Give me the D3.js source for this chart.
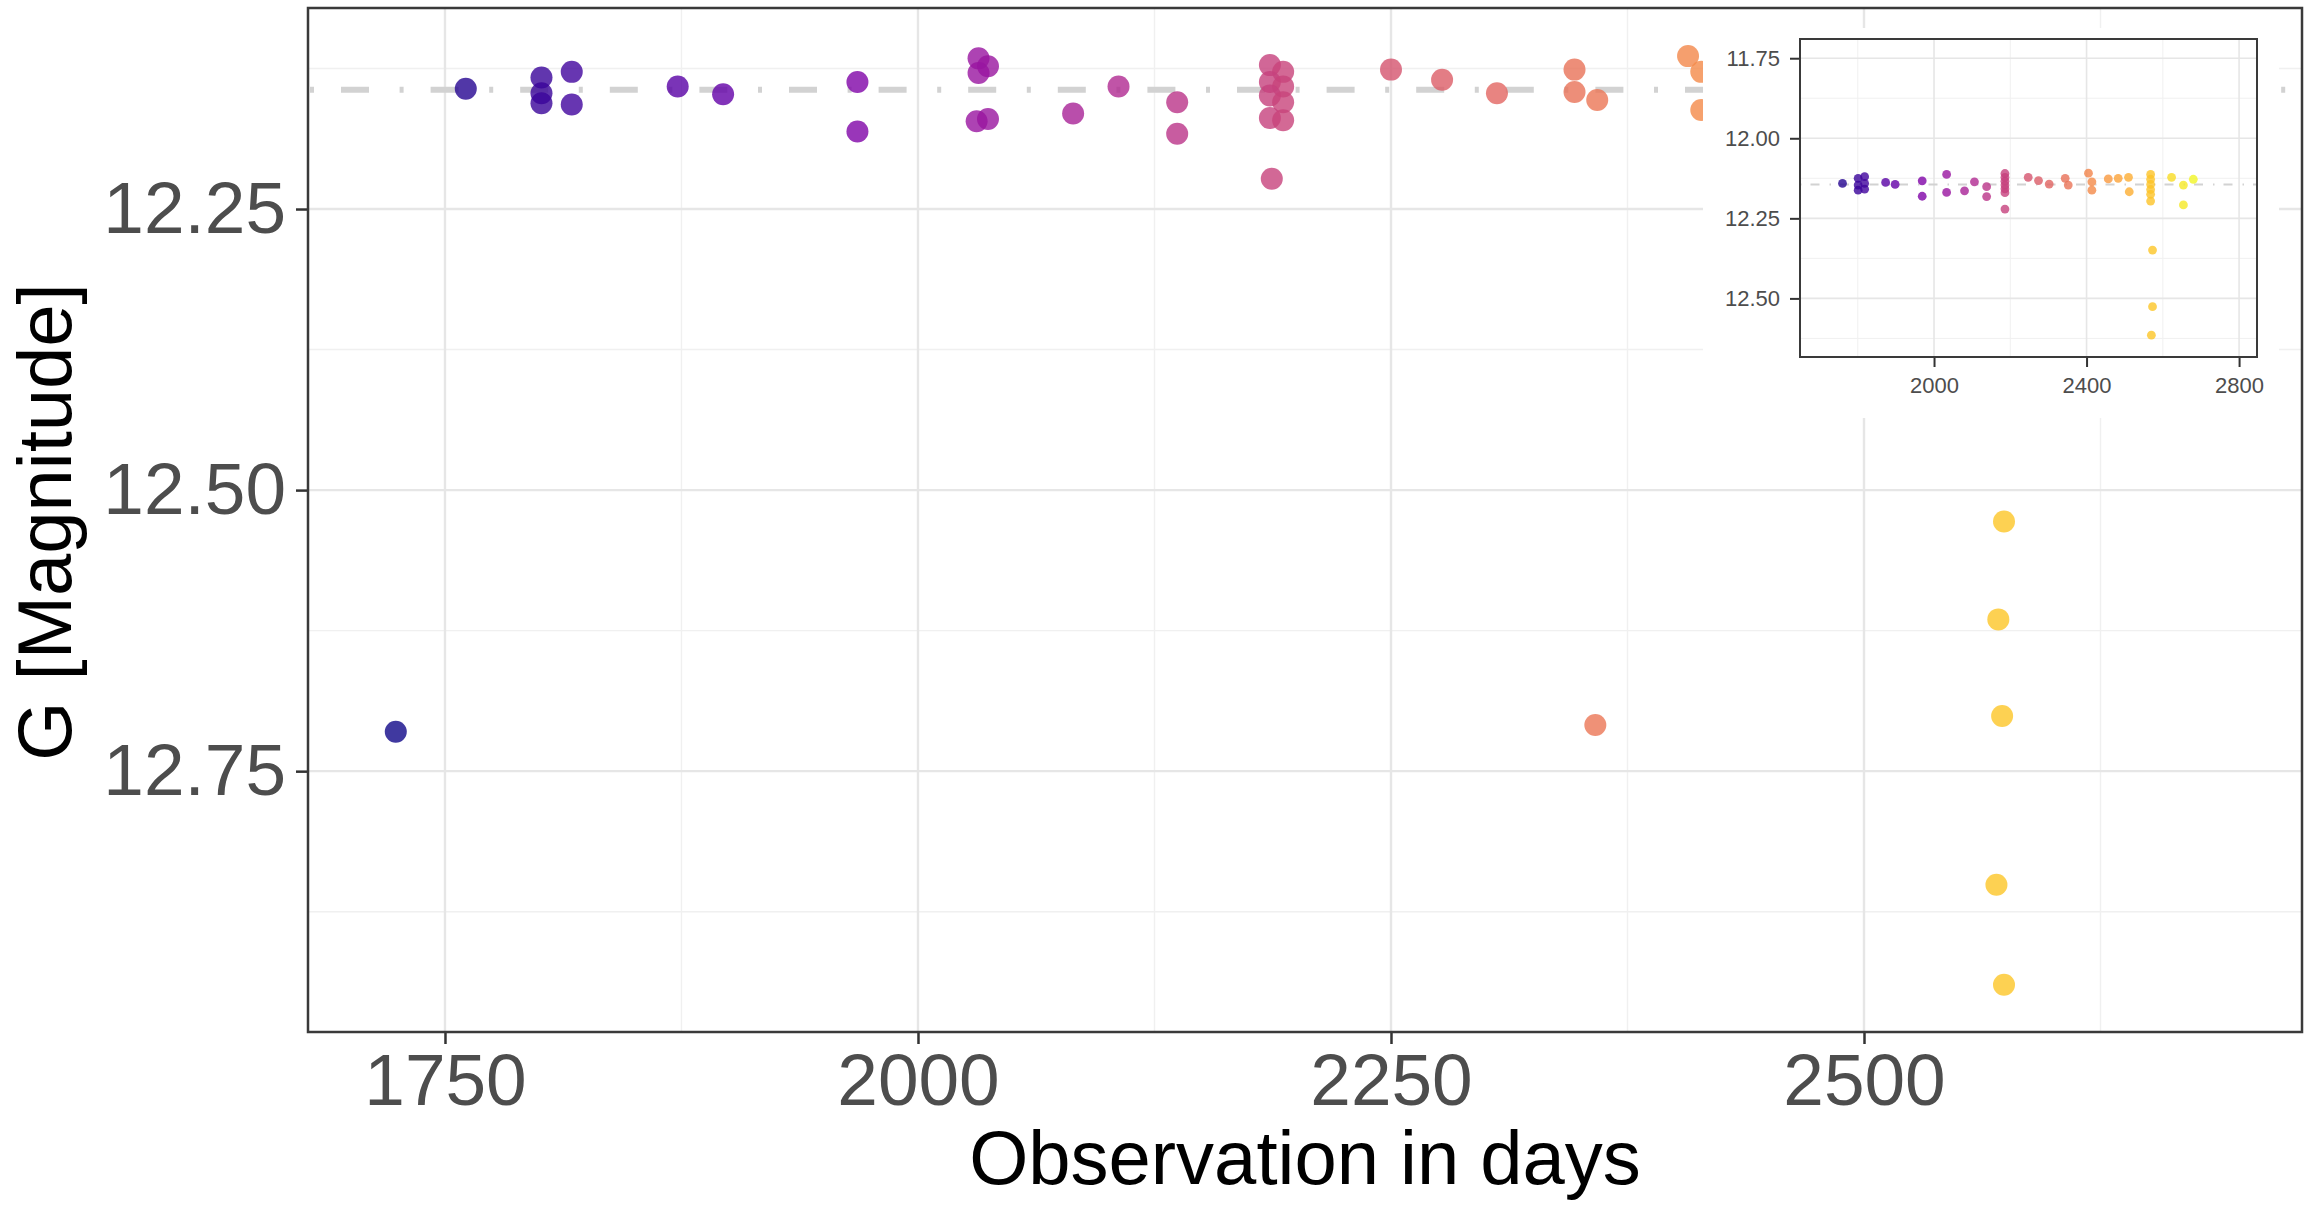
<!DOCTYPE html>
<html>
<head>
<meta charset="utf-8">
<script src="https://cdn.jsdelivr.net/npm/d3@7"></script>
<style>
  html, body { margin: 0; padding: 0; background: #ffffff; }
  svg { display: block; }
  text { font-family: "Liberation Sans", Arial, Helvetica, sans-serif; }
</style>
</head>
<body>
<svg id="chart" width="2306" height="1211"></svg>
<script>
// Light curve observations: day of observation and G magnitude
const mainDays = [1724, 1761, 1801, 1801, 1801, 1817, 1817, 1873, 1897, 1968, 1968,
  2032, 2037, 2032, 2031, 2037, 2082, 2106, 2137, 2137,
  2186, 2193, 2186, 2193, 2186, 2193, 2186, 2193, 2187,
  2250, 2277, 2306, 2347, 2347, 2359, 2358, 2407, 2414, 2414,
  2574, 2571, 2573, 2570, 2574];
const mainMag = [12.715, 12.143, 12.133, 12.147, 12.156, 12.128, 12.157, 12.141, 12.148, 12.137, 12.181,
  12.116, 12.123, 12.129, 12.172, 12.170, 12.165, 12.141, 12.155, 12.183,
  12.122, 12.128, 12.137, 12.141, 12.149, 12.155, 12.169, 12.171, 12.223,
  12.126, 12.135, 12.147, 12.126, 12.146, 12.153, 12.709, 12.114, 12.128, 12.162,
  12.528, 12.615, 12.701, 12.851, 12.940];

// Full-range overview shown in the inset
const insetDays = [1760, 1801, 1818, 1801, 1818, 1801, 1818, 1873, 1898, 1969, 1969,
  2033, 2033, 2080, 2106, 2138, 2138,
  2186, 2186, 2186, 2186, 2186, 2186, 2186,
  2247, 2274, 2302, 2344, 2352, 2405, 2414, 2414, 2457, 2483, 2510, 2512,
  2568, 2568, 2568, 2568, 2568, 2568, 2573, 2573, 2570,
  2623, 2654, 2654, 2680];
const insetMag = [12.141, 12.125, 12.120, 12.146, 12.141, 12.162, 12.159, 12.138, 12.144, 12.133, 12.181,
  12.113, 12.169, 12.164, 12.136, 12.151, 12.182,
  12.110, 12.122, 12.134, 12.146, 12.158, 12.170, 12.221,
  12.122, 12.132, 12.143, 12.125, 12.146, 12.109, 12.136, 12.162, 12.127, 12.125, 12.122, 12.167,
  12.113, 12.128, 12.144, 12.160, 12.175, 12.196, 12.349, 12.526, 12.615,
  12.122, 12.146, 12.208, 12.128];

const meanMag = 12.144;

const mainXTicks = [1750, 2000, 2250, 2500];
const mainXMinor = [1875, 2125, 2375, 2625];
const mainYTicks = [12.25, 12.50, 12.75];
const mainYMinor = [12.125, 12.375, 12.625, 12.875];

const insetXTicks = [2000, 2400, 2800];
const insetXMinor = [1800, 2200, 2600];
const insetYTicks = [11.75, 12.00, 12.25, 12.50];
const insetYMinor = [11.875, 12.125, 12.375, 12.625];

const xTitle = "Observation in days";
const yTitle = "G [Magnitude]";

const svg = d3.select("#chart");

// colour follows observation time
const colour = d3.scaleSequential(d3.interpolatePlasma).domain([1720, 2690]);

function panel(opts) {
  const { x, y, xTicks, xMinor, yTicks, yMinor, days, mags, r, fontSize,
          tickLen, tickPadX, tickPadY, majorW, minorW, borderW, dash, dashW, id } = opts;
  const [x0, x1] = x.range();
  const [y0, y1] = y.range();
  const g = svg.append("g");

  g.append("rect").attr("x", x0).attr("y", y0)
    .attr("width", x1 - x0).attr("height", y1 - y0).attr("fill", "#ffffff");

  // minor grid
  g.append("g").selectAll("line.vmin").data(xMinor).join("line")
    .attr("x1", d => x(d)).attr("x2", d => x(d)).attr("y1", y0).attr("y2", y1)
    .attr("stroke", "#f0f0f0").attr("stroke-width", minorW);
  g.append("g").selectAll("line.hmin").data(yMinor).join("line")
    .attr("y1", d => y(d)).attr("y2", d => y(d)).attr("x1", x0).attr("x2", x1)
    .attr("stroke", "#f0f0f0").attr("stroke-width", minorW);
  // major grid
  g.append("g").selectAll("line.vmaj").data(xTicks).join("line")
    .attr("x1", d => x(d)).attr("x2", d => x(d)).attr("y1", y0).attr("y2", y1)
    .attr("stroke", "#e6e6e6").attr("stroke-width", majorW);
  g.append("g").selectAll("line.hmaj").data(yTicks).join("line")
    .attr("y1", d => y(d)).attr("y2", d => y(d)).attr("x1", x0).attr("x2", x1)
    .attr("stroke", "#e6e6e6").attr("stroke-width", majorW);

  const clipId = "clip-" + id;
  svg.append("clipPath").attr("id", clipId).append("rect")
    .attr("x", x0).attr("y", y0).attr("width", x1 - x0).attr("height", y1 - y0);

  const inner = g.append("g").attr("clip-path", `url(#${clipId})`);

  // reference level
  inner.append("line")
    .attr("x1", x0).attr("x2", x1).attr("y1", y(meanMag)).attr("y2", y(meanMag))
    .attr("stroke", "#d2d2d2").attr("stroke-width", dashW)
    .attr("stroke-dasharray", dash.array).attr("stroke-dashoffset", dash.offset);

  const pts = days.map((d, i) => ({ d, m: mags[i] }));
  inner.append("g").selectAll("circle").data(pts).join("circle")
    .attr("cx", p => x(p.d)).attr("cy", p => y(p.m)).attr("r", r)
    .attr("fill", p => colour(p.d)).attr("fill-opacity", 0.8);

  // axes
  const ax = g.append("g").attr("transform", `translate(0,${y1})`)
    .call(d3.axisBottom(x).tickValues(xTicks).tickFormat(d3.format("d"))
      .tickSize(tickLen).tickPadding(tickPadX).tickSizeOuter(0));
  const ay = g.append("g").attr("transform", `translate(${x0},0)`)
    .call(d3.axisLeft(y).tickValues(yTicks).tickFormat(d3.format(".2f"))
      .tickSize(tickLen).tickPadding(tickPadY).tickSizeOuter(0));
  [ax, ay].forEach(a => {
    a.select(".domain").remove();
    a.selectAll(".tick line").attr("stroke", "#333333").attr("stroke-width", borderW);
    a.selectAll(".tick text").attr("fill", "#4d4d4d")
      .style("font-family", '"Liberation Sans", Arial, sans-serif')
      .style("font-size", fontSize + "px");
  });

  g.append("rect").attr("x", x0).attr("y", y0)
    .attr("width", x1 - x0).attr("height", y1 - y0)
    .attr("fill", "none").attr("stroke", "#3a3a3a").attr("stroke-width", borderW);
  return g;
}

// main panel
const x = d3.scaleLinear().domain([1677.6, 2731.5]).range([308, 2302]);
const y = d3.scaleLinear().domain([12.0712, 12.982]).range([8, 1032]);

panel({
  id: "main", x, y, xTicks: mainXTicks, xMinor: mainXMinor, yTicks: mainYTicks, yMinor: mainYMinor,
  days: mainDays, mags: mainMag, r: 11, fontSize: 73, tickLen: 12, tickPadX: 9, tickPadY: 10,
  majorW: 2.4, minorW: 1.4, borderW: 2.5,
  dash: { array: "4 27 28 30.6", offset: -2 }, dashW: 6
});

// inset backdrop
svg.append("rect").attr("x", 1703).attr("y", 28).attr("width", 576).attr("height", 390)
  .attr("fill", "#ffffff");

const ix = d3.scaleLinear().domain([1648.5, 2847]).range([1800, 2257]);
const iy = d3.scaleLinear().domain([11.690, 12.683]).range([39, 357]);

panel({
  id: "inset", x: ix, y: iy, xTicks: insetXTicks, xMinor: insetXMinor, yTicks: insetYTicks, yMinor: insetYMinor,
  days: insetDays, mags: insetMag, r: 4.4, fontSize: 22, tickLen: 10, tickPadX: 10, tickPadY: 10,
  majorW: 1.6, minorW: 1.0, borderW: 2,
  dash: { array: "1.5 9 9 10", offset: 0 }, dashW: 2
});

// axis titles
svg.append("text")
  .attr("x", 1305).attr("y", 1184)
  .attr("text-anchor", "middle")
  .attr("fill", "#000000")
  .style("font-size", "76px")
  .text(xTitle);

svg.append("text")
  .attr("transform", "translate(71,522) rotate(-90)")
  .attr("text-anchor", "middle")
  .attr("fill", "#000000")
  .style("font-size", "76px")
  .text(yTitle);
</script>
</body>
</html>
